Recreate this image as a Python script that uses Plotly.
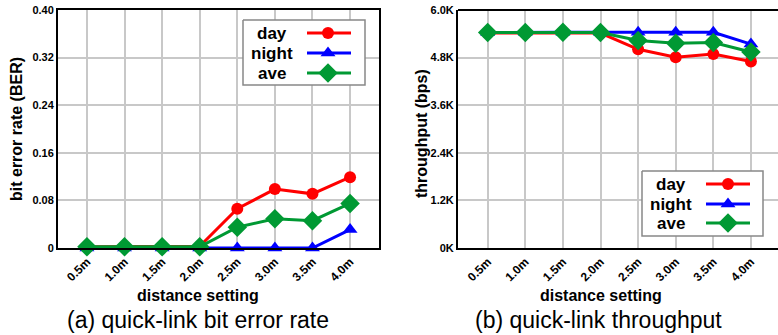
import plotly.graph_objects as go

# ---------------- data ----------------
distances = ["0.5m", "1.0m", "1.5m", "2.0m", "2.5m", "3.0m", "3.5m", "4.0m"]

ber_day = [0.002, 0.002, 0.002, 0.003, 0.066, 0.099, 0.091, 0.119]
ber_night = [0.0, 0.0, 0.0, 0.0, 0.0, 0.0, 0.0, 0.031]
ber_ave = [0.002, 0.002, 0.002, 0.002, 0.035, 0.049, 0.046, 0.075]

thr_day = [5420, 5420, 5430, 5420, 5010, 4810, 4890, 4700]
thr_night = [5430, 5440, 5440, 5440, 5440, 5440, 5440, 5140]
thr_ave = [5430, 5430, 5440, 5430, 5230, 5160, 5180, 4940]

ber_ticks = [0, 0.08, 0.16, 0.24, 0.32, 0.40]
ber_ticktext = ["0", "0.08", "0.16", "0.24", "0.32", "0.40"]
thr_ticks = [0, 1200, 2400, 3600, 4800, 6000]
thr_ticktext = ["0K", "1.2K", "2.4K", "3.6K", "4.8K", "6.0K"]

series_names = ["day", "night", "ave"]
# --------------------------------------

# page body margin is removed (post_script), so figure pixels == window pixels
W, H = 778, 335
RED, BLUE, GREEN = "#ff0000", "#0000ff", "#009933"
colors = [RED, BLUE, GREEN]
symbols = ["circle", "triangle-up", "diamond"]
msizes = [12, 13, 15]
FONT = "Liberation Sans"
GRID = "#c8c8c8"

fig = go.Figure()

left_series = [ber_day, ber_night, ber_ave]
right_series = [thr_day, thr_night, thr_ave]
for i in range(3):
    fig.add_trace(go.Scatter(
        x=distances, y=left_series[i], mode="lines+markers", name=series_names[i],
        line=dict(color=colors[i], width=3),
        marker=dict(symbol=symbols[i], size=msizes[i], color=colors[i]),
        cliponaxis=False, showlegend=False, xaxis="x", yaxis="y"))
for i in range(3):
    fig.add_trace(go.Scatter(
        x=distances, y=right_series[i], mode="lines+markers", name=series_names[i],
        line=dict(color=colors[i], width=3),
        marker=dict(symbol=symbols[i], size=msizes[i], color=colors[i]),
        cliponaxis=False, showlegend=False, xaxis="x2", yaxis="y2"))

def px(x):
    return x / W

def py(y):
    return 1 - y / H

# custom legends drawn in a window-pixel coordinate subplot (x3/y3)
legend_specs = [
    dict(box=(243, 20, 365, 85), text_x=272, line=(307, 351), mark_x=328, rows=[33, 53, 73]),
    dict(box=(642, 171, 763, 236), text_x=671, line=(706, 750), mark_x=728, rows=[184, 204, 223]),
]
annotations = []
for spec in legend_specs:
    x0, y0, x1, y1 = spec["box"]
    fig.add_trace(go.Scatter(
        x=[x0, x1, x1, x0, x0], y=[y0, y0, y1, y1, y0], mode="lines",
        fill="toself", fillcolor="white", line=dict(color="#888888", width=1.5),
        showlegend=False, hoverinfo="skip", xaxis="x3", yaxis="y3"))
    for i in range(3):
        ry = spec["rows"][i]
        fig.add_trace(go.Scatter(
            x=[spec["line"][0], spec["line"][1]], y=[ry, ry], mode="lines",
            line=dict(color=colors[i], width=3), showlegend=False,
            hoverinfo="skip", xaxis="x3", yaxis="y3"))
        fig.add_trace(go.Scatter(
            x=[spec["mark_x"]], y=[ry], mode="markers",
            marker=dict(symbol=symbols[i], size=msizes[i], color=colors[i]),
            showlegend=False, hoverinfo="skip", xaxis="x3", yaxis="y3"))
        annotations.append(dict(
            x=spec["text_x"], y=ry, xref="x3", yref="y3", text="<b>%s</b>" % series_names[i],
            showarrow=False, xanchor="center", yanchor="middle",
            font=dict(family=FONT, size=17, color="black")))

def ann(x, y, text, size, angle=0, bold=True):
    return dict(x=px(x), y=py(y), xref="paper", yref="paper",
                text=("<b>%s</b>" % text) if bold else text, textangle=angle,
                showarrow=False, xanchor="center", yanchor="middle",
                font=dict(family=FONT, size=size, color="black"))

annotations += [
    ann(16, 129, "bit error rate (BER)", 16, -90),
    ann(421, 133, "throughput (bps)", 16, -90),
    ann(198, 295, "distance setting", 16),
    ann(601, 295, "distance setting", 16),
    ann(198, 320, "(a) quick-link bit error rate", 23, bold=False),
    ann(598, 320, "(b) quick-link throughput", 23, bold=False),
]

ydom = [py(248), py(10)]
tickfont = dict(family=FONT, size=11, color="black")
xtickfont = dict(family=FONT, size=12, color="black")

common_x = dict(type="category", showgrid=True, gridcolor=GRID, gridwidth=1.5,
                showline=True, linecolor="black", linewidth=2, ticks="",
                tickangle=-45, tickfont=xtickfont, zeroline=False, automargin=False,
                ticklabeloverflow="allow",
                tickvals=distances, ticktext=["<b>%s</b>" % d for d in distances])
common_y = dict(showgrid=True, gridcolor=GRID, gridwidth=1.5, showline=True,
                linecolor="black", linewidth=2, ticks="", tickfont=tickfont,
                zeroline=False, automargin=False, ticklabeloverflow="allow")

fig.update_layout(
    width=W, height=H, autosize=False,
    margin=dict(l=0, r=0, t=0, b=0, pad=0),
    paper_bgcolor="white", plot_bgcolor="rgba(0,0,0,0)",
    showlegend=False, hovermode=False,
    font=dict(family=FONT, color="black"),
    xaxis=dict(domain=[px(58), px(379)], range=[-0.77, 7.77], anchor="y", mirror=True, **common_x),
    yaxis=dict(domain=ydom, range=[0, 0.40], anchor="x", mirror=True,
               tickvals=ber_ticks, ticktext=["<b>%s</b>" % t for t in ber_ticktext], **common_y),
    xaxis2=dict(domain=[px(458), 1.0], range=[-0.79, 7.72], anchor="y2", mirror=False, **common_x),
    yaxis2=dict(domain=ydom, range=[0, 6000], anchor="x2", mirror=False,
                tickvals=thr_ticks, ticktext=["<b>%s</b>" % t for t in thr_ticktext], **common_y),
    xaxis3=dict(domain=[0, 1], range=[0, W], anchor="y3", visible=False, fixedrange=True, automargin=False),
    yaxis3=dict(domain=[0, 1], range=[H, 0], anchor="x3", visible=False, fixedrange=True, automargin=False),
    annotations=annotations,
    shapes=[dict(type="line", xref="paper", yref="paper", x0=px(458), x1=1.0,
                 y0=py(10), y1=py(10), line=dict(color="black", width=2))],
)

fig.write_html("out.html", config={"displayModeBar": False},
               post_script="document.body.style.margin='0';document.body.style.overflow='hidden';")
